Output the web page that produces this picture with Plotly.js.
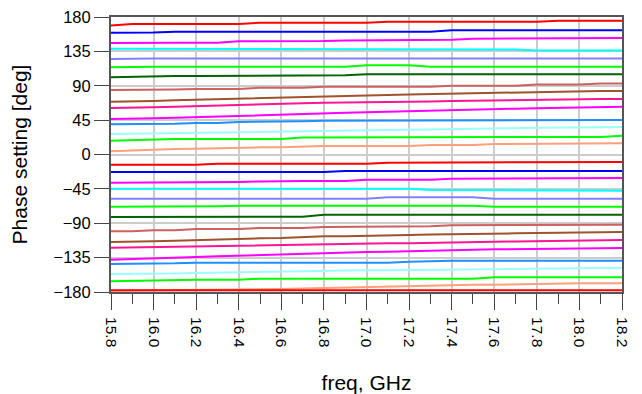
<!DOCTYPE html>
<html>
<head>
<meta charset="utf-8">
<script src="https://cdn.plot.ly/plotly-3.0.1.min.js"></script>
<style>html,body{margin:0;padding:0;background:#fff;}#chart{width:642px;height:394px;}</style>
</head>
<body>
<div id="chart"></div>
<script>
const freq = [15.8,15.9,16.0,16.1,16.2,16.3,16.4,16.5,16.6,16.7,16.8,16.9,17.0,17.1,17.2,17.3,17.4,17.5,17.6,17.7,17.8,17.9,18.0,18.1,18.2];

const colors = ['#ff0000','#0000ff','#ff00ff','#00ffff','#8080ff','#00ff00','#006400','#cd6060','#a0522d','#ff1493','#ff00ff','#1e90ff','#99ffff','#00ff00','#ffa07a'];

const s01 = [169.0,170.8,170.8,170.8,170.8,170.8,170.8,172.5,172.5,172.5,172.5,172.5,172.5,173.8,173.8,173.8,173.8,173.8,173.8,173.8,173.8,175.1,175.1,175.1,175.1];
const s02 = [159.4,159.4,159.6,160.7,160.7,160.7,160.7,160.7,160.7,160.7,160.7,160.7,160.7,160.7,160.7,160.7,162.5,162.5,162.5,162.5,162.5,162.5,162.5,162.5,162.5];
const s03 = [145.9,146.3,146.3,146.3,146.3,146.3,148.1,148.1,148.5,148.5,148.5,149.4,149.4,150.3,150.3,150.3,150.3,151.6,151.6,151.6,151.6,151.6,152.4,152.4,152.4];
const s04 = [138.5,138.5,138.5,138.5,138.5,138.5,138.5,138.5,138.5,137.6,137.6,137.6,137.6,137.6,137.6,137.6,137.6,137.6,137.6,137.6,136.3,136.3,136.3,136.3,136.3];
const s05 = [125.0,125.8,125.8,125.8,125.8,125.8,125.8,125.8,125.8,125.8,125.8,125.8,125.8,125.8,125.8,125.8,125.8,125.8,125.8,125.8,125.8,125.8,125.8,125.8,125.8];
const s06 = [114.1,114.9,114.9,114.9,114.9,114.9,114.9,114.9,114.9,114.9,114.9,114.9,116.7,116.7,116.7,114.9,114.9,114.9,114.9,114.9,114.9,114.9,114.9,114.9,114.9];
const s07 = [101.0,101.8,102.7,102.7,102.7,102.7,102.7,103.6,103.6,103.6,103.6,103.6,104.9,104.9,104.9,104.9,104.9,104.9,104.9,104.9,104.9,104.9,104.9,104.9,104.9];
const s08 = [84.4,84.4,84.4,85.0,85.7,85.7,85.7,87.4,87.4,87.4,88.8,88.8,88.8,88.8,88.8,88.8,90.1,90.1,90.1,90.1,91.8,91.8,91.8,93.1,93.1];
const s09 = [69.1,69.3,70.0,70.9,71.7,72.4,73.1,74.0,74.8,75.6,76.5,77.0,77.4,78.0,78.7,79.2,79.6,80.2,80.9,81.4,81.8,82.5,83.1,83.1,83.1];
const s10 = [60.8,60.8,61.7,62.6,63.5,64.4,65.2,65.9,66.5,67.2,67.8,68.0,68.3,68.7,69.1,69.5,70.0,70.5,70.9,71.3,71.7,72.2,72.6,72.6,72.6];
const s11 = [46.4,46.4,47.3,48.2,49.1,49.9,50.8,51.7,52.5,53.2,53.9,54.5,55.2,56.0,56.9,57.5,58.2,58.8,59.5,60.0,60.4,60.9,61.3,61.8,62.6];
const s12 = [39.5,39.5,40.3,40.3,41.2,41.2,42.5,42.5,43.4,43.4,44.3,44.3,45.1,45.1,45.1,45.1,45.1,45.1,45.1,45.1,45.1,45.1,45.1,45.1,45.1];
const s13 = [26.8,27.2,27.7,28.1,28.6,29.0,29.4,30.0,30.7,31.1,31.6,32.0,32.5,32.7,32.9,33.3,33.8,34.2,34.7,34.9,35.1,35.3,35.5,35.7,36.0];
const s14 = [18.1,19.0,19.0,20.3,20.3,20.3,20.3,20.3,20.3,22.4,22.4,22.4,22.4,22.4,22.4,22.4,22.4,23.0,23.0,23.0,23.0,23.0,23.0,23.0,24.6];
const s15 = [4.1,5.4,6.7,7.2,7.6,8.5,9.4,9.4,9.4,10.3,11.1,11.1,11.1,11.1,11.1,12.4,12.4,12.4,13.7,13.7,13.7,13.7,14.6,14.6,14.6];
const s16 = [-13.3,-13.3,-13.3,-13.3,-13.3,-12.0,-12.0,-12.0,-12.0,-12.0,-12.0,-12.0,-12.0,-10.7,-10.7,-10.7,-10.7,-10.7,-10.7,-9.8,-9.8,-9.8,-9.8,-9.8,-9.8];
const s17 = [-22.9,-22.9,-22.9,-22.9,-22.9,-22.9,-22.9,-22.9,-22.9,-22.9,-22.9,-21.6,-21.6,-21.6,-21.6,-21.6,-21.6,-21.6,-21.6,-21.6,-21.6,-21.6,-21.6,-21.6,-21.6];
const s18 = [-36.9,-36.9,-36.9,-36.9,-36.0,-36.0,-36.0,-35.3,-34.7,-34.7,-34.7,-34.7,-33.0,-33.0,-33.0,-33.0,-31.6,-31.6,-31.6,-31.6,-30.8,-30.8,-30.8,-30.8,-30.8];
const s19 = [-44.7,-44.7,-44.7,-44.7,-44.7,-44.7,-44.7,-44.7,-44.7,-44.7,-44.7,-44.7,-44.7,-44.7,-44.7,-46.5,-46.5,-46.5,-46.5,-46.5,-47.4,-47.4,-47.4,-47.4,-47.4];
const s20 = [-57.8,-57.8,-57.8,-57.8,-57.8,-57.8,-57.8,-57.8,-57.8,-57.8,-57.8,-57.8,-57.8,-56.1,-56.1,-56.1,-56.1,-56.1,-57.8,-57.8,-57.8,-57.8,-57.8,-57.8,-57.8];
const s21 = [-68.3,-68.3,-68.3,-68.3,-68.3,-67.6,-67.0,-67.0,-67.0,-67.0,-67.0,-67.0,-67.0,-67.0,-67.0,-67.0,-67.0,-67.0,-68.3,-68.3,-68.3,-68.3,-68.3,-68.3,-68.3];
const s22 = [-81.8,-81.8,-81.8,-81.8,-81.8,-81.4,-81.4,-81.4,-81.4,-81.4,-78.8,-78.8,-78.8,-78.8,-78.8,-78.8,-78.8,-78.8,-78.8,-78.8,-78.8,-78.8,-78.8,-78.8,-78.8];
const s23 = [-100.6,-100.6,-99.3,-99.3,-97.5,-97.5,-97.5,-96.2,-96.2,-96.2,-94.9,-94.9,-94.9,-94.0,-94.0,-94.0,-92.7,-92.7,-92.7,-92.7,-91.8,-91.8,-91.8,-91.8,-91.8];
const s24 = [-114.5,-114.5,-113.7,-112.8,-111.9,-111.0,-110.2,-109.7,-109.3,-108.0,-107.1,-106.9,-106.7,-106.0,-105.4,-104.7,-104.1,-103.8,-103.6,-103.2,-102.8,-102.3,-101.9,-101.7,-101.5];
const s25 = [-122.0,-121.5,-121.1,-120.6,-120.2,-119.5,-118.9,-118.4,-118.0,-117.6,-117.2,-116.7,-116.3,-116.3,-116.3,-115.6,-115.0,-114.5,-114.1,-113.9,-113.7,-113.2,-112.8,-112.3,-111.9];
const s26 = [-137.7,-136.6,-135.5,-134.8,-134.2,-133.3,-132.4,-131.8,-131.1,-130.2,-129.4,-128.5,-127.6,-127.2,-126.8,-126.1,-125.4,-124.8,-124.1,-123.7,-123.3,-122.9,-122.4,-122.4,-122.4];
const s27 = [-143.3,-143.3,-142.5,-142.5,-141.6,-141.6,-141.6,-141.6,-141.6,-141.6,-141.6,-141.6,-141.6,-141.6,-140.5,-139.4,-139.0,-139.0,-139.0,-139.0,-139.0,-139.0,-139.0,-139.0,-139.0];
const s28 = [-156.4,-156.4,-156.4,-155.7,-155.1,-154.6,-154.2,-153.5,-152.9,-152.5,-152.1,-151.8,-151.6,-151.4,-151.2,-150.9,-150.7,-150.3,-149.9,-149.6,-149.4,-149.2,-149.0,-148.5,-148.1];
const s29 = [-166.0,-165.5,-165.1,-163.8,-163.8,-163.8,-163.8,-162.5,-162.5,-162.5,-162.5,-162.5,-162.5,-162.5,-162.5,-162.5,-162.5,-162.5,-160.8,-160.8,-160.8,-160.8,-160.8,-160.8,-160.8];
const s30 = [-178.4,-178.2,-178.0,-177.8,-177.5,-177.2,-176.9,-176.5,-176.0,-175.3,-174.7,-174.0,-173.4,-172.6,-171.9,-171.2,-170.8,-170.6,-170.4,-169.8,-169.3,-168.9,-168.6,-168.6,-168.6];
const s31 = [-177.8,-177.8,-177.8,-177.8,-177.8,-177.8,-177.8,-177.8,-177.8,-177.8,-177.8,-177.8,-177.8,-177.8,-177.8,-177.8,-177.8,-177.8,-177.8,-177.8,-177.8,-177.8,-177.8,-177.8,-177.8];

const series = [s01,s02,s03,s04,s05,s06,s07,s08,s09,s10,s11,s12,s13,s14,s15,s16,s17,s18,s19,s20,s21,s22,s23,s24,s25,s26,s27,s28,s29,s30,s31];

const yTicks = [-180,-135,-90,-45,0,45,90,135,180];
const xTicks = [15.8,16.0,16.2,16.4,16.6,16.8,17.0,17.2,17.4,17.6,17.8,18.0,18.2];
const xTickText = ['15.8','16.0','16.2','16.4','16.6','16.8','17.0','17.2','17.4','17.6','17.8','18.0','18.2'];

const traces = series.map((s, i) => ({
  x: freq, y: s, type: 'scatter', mode: 'lines',
  line: {color: colors[i % colors.length], width: 2},
  hoverinfo: 'skip', showlegend: false
}));

const font = {family: 'Arial, "Liberation Sans", sans-serif', color: '#000'};

const layout = {
  width: 642, height: 394,
  margin: {l: 111, r: 20, t: 17, b: 102, pad: 0},
  paper_bgcolor: '#fff', plot_bgcolor: '#fff',
  font: Object.assign({size: 16}, font),
  showlegend: false,
  xaxis: {
    range: [15.8, 18.2], tickvals: xTicks, ticktext: xTickText, tickangle: 90,
    ticks: 'outside', ticklen: 16, tickwidth: 1, tickcolor: '#444',
    ticklabelstandoff: 4,
    minor: {dtick: 0.1, tick0: 15.8, ticks: 'outside', ticklen: 10, tickcolor: '#444', tickwidth: 1, showgrid: false},
    showgrid: true, gridcolor: '#cccccc', gridwidth: 2,
    showline: true, linecolor: '#555', linewidth: 2, mirror: true,
    zeroline: false,
    tickfont: Object.assign({size: 15.5}, font),
    title: {text: 'freq, GHz', font: Object.assign({size: 21}, font), standoff: 30}
  },
  yaxis: {
    range: [-180, 180], tickvals: yTicks,
    ticks: 'outside', ticklen: 15, tickwidth: 1, tickcolor: '#444',
    showgrid: true, gridcolor: '#cccccc', gridwidth: 2,
    showline: true, linecolor: '#555', linewidth: 2, mirror: true,
    zeroline: false,
    tickfont: Object.assign({size: 16.5}, font),
    title: {text: 'Phase setting [deg]', font: Object.assign({size: 21}, font), standoff: 20}
  }
};

Plotly.newPlot('chart', traces, layout, {staticPlot: true, displayModeBar: false});
</script>
</body>
</html>
